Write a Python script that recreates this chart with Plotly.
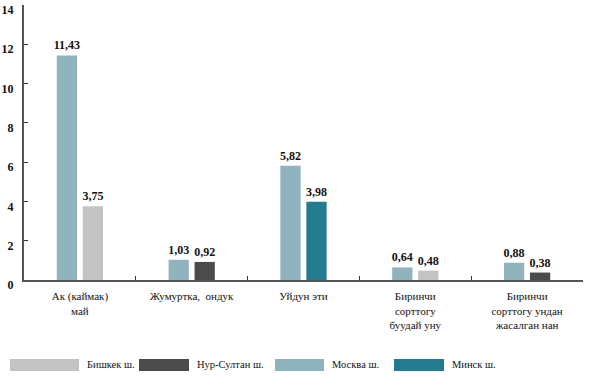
import plotly.graph_objects as go

categories = ["Ак (каймак)<br>май", "Жумуртка,  ондук", "Уйдун эти",
              "Биринчи<br>сорттогу<br>буудай уну", "Биринчи<br>сорттогу ундан<br>жасалган нан"]
series_names = ["Бишкек ш.", "Нур-Султан ш.", "Москва ш.", "Минск ш."]
series_colors = ["#c3c3c3", "#4b4b4b", "#8fb4be", "#237b8f"]

moscow = [11.43, 1.03, 5.82, 0.64, 0.88]
bishkek = [3.75, None, None, 0.48, None]
nursultan = [None, 0.92, None, None, 0.38]
minsk = [None, None, 3.98, None, None]

serif = "Liberation Serif"
fig = go.Figure()

def add(name, vals, color, group):
    fig.add_trace(go.Bar(
        x=categories, y=vals, name=name, marker_color=color, marker_line_width=0,
        offsetgroup=group, texttemplate="<b>%{y:.2f}</b>", textposition="outside",
        cliponaxis=False, constraintext="none",
        textfont=dict(family=serif, size=12, color="#111"),
        showlegend=False))

add("Москва ш.", moscow, series_colors[2], "a")
add("Бишкек ш.", bishkek, series_colors[0], "b")
add("Нур-Султан ш.", nursultan, series_colors[1], "b")
add("Минск ш.", minsk, series_colors[3], "b")

fig.update_layout(
    width=613, height=385, barmode="group", bargap=0.535, bargroupgap=0.22,
    separators=", ", plot_bgcolor="white", paper_bgcolor="white",
    margin=dict(l=24, r=30, t=5, b=105, autoexpand=False),
    font=dict(family=serif, size=12, color="#111"),
)
fig.update_xaxes(showline=True, linecolor="#555", linewidth=2, ticks="inside",
                 tickson="boundaries", ticklen=4, tickcolor="#333", automargin=False,
                 ticklabelstandoff=5,
                 tickfont=dict(family=serif, size=11, color="#111"), showgrid=False)
fig.update_yaxes(range=[0, 14], dtick=2, showline=True, linecolor="#555", linewidth=2,
                 ticks="inside", ticklen=4, tickcolor="#333", showgrid=False,
                 zeroline=False, automargin=False, ticklabeloverflow="allow",
                 ticklabelshift=5, ticklabelstandoff=6,
                 tickfont=dict(family=serif, size=12, color="#111"),
                 tickprefix="<b>", ticksuffix="</b>")

# custom legend with wide swatches
swatches = [(10, 79), (139, 189), (275, 324), (394, 444)]
for (x0, x1), name, col in zip(swatches, series_names, series_colors):
    fig.add_shape(type="rect", xref="paper", yref="paper",
                  x0=(x0 - 24) / 559, x1=(x1 - 24) / 559,
                  y0=-(371 - 280) / 275, y1=-(359 - 280) / 275,
                  fillcolor=col, line_width=0)
    fig.add_annotation(xref="paper", yref="paper", x=(x1 + 6 - 24) / 559,
                       y=-(364 - 280) / 275, text=name, showarrow=False,
                       xanchor="left", yanchor="middle",
                       font=dict(family=serif, size=10.5, color="#111"))

fig.write_html("out.html", config={"displayModeBar": False},
               post_script="document.body.style.margin='0';")
